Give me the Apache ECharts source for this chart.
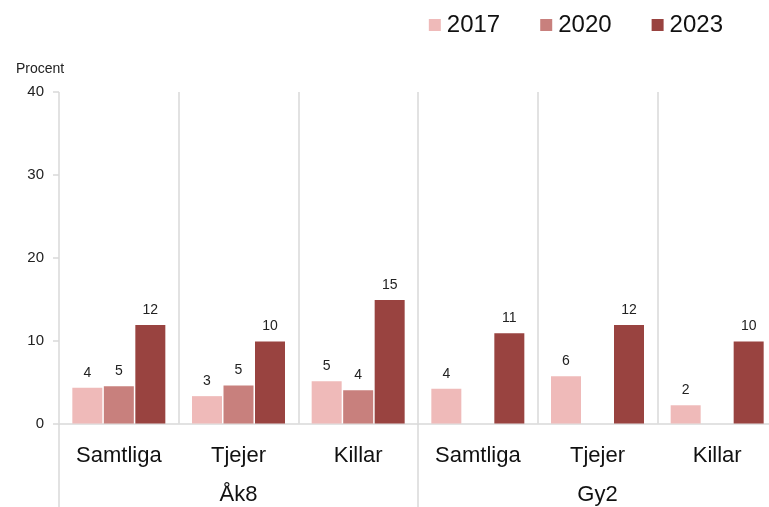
<!DOCTYPE html>
<html><head><meta charset="utf-8">
<script src="https://cdn.jsdelivr.net/npm/echarts@6/dist/echarts.min.js"></script>
<style>html,body{margin:0;padding:0;background:#fff;overflow:hidden}#c{width:769px;height:507px}</style>
</head><body><div id="c"></div>
<script>
const categories = ['Samtliga','Tjejer','Killar','Samtliga','Tjejer','Killar'];
const groups = ['Åk8','Gy2'];
const years = ['2017','2020','2023'];
const v2017 = [4.3, 3.3, 5.1, 4.2, 5.7, 2.2];
const v2020 = [4.5, 4.6, 4.0, null, null, null];
const v2023 = [11.9, 9.9, 14.9, 10.9, 11.9, 9.9];
const yTicks = {min: 0, max: 40, interval: 10};
const colors = ['#efbab9', '#c8807d', '#994340'];

const font = 'Liberation Sans, Arial, sans-serif';
function mk(name, data, color) {
  return {
    name, type: 'bar', data, xAxisIndex: 0,
    barWidth: 30, barGap: '5%',
    itemStyle: {color},
    label: {show: true, position: 'top', distance: 8, fontSize: 14, color: '#222', fontFamily: font,
      formatter: p => p.value == null ? '' : Math.round(p.value)}
  };
}
const chart = echarts.init(document.getElementById('c'));
chart.setOption({
  animation: false,
  textStyle: {fontFamily: font},
  title: {text: 'Procent', left: 11, top: 57, textStyle: {fontSize: 14, fontWeight: 'normal', color: '#222', fontFamily: font}},
  legend: {data: years, right: 41, top: 8, itemWidth: 12, itemHeight: 12, itemGap: 40,
    textStyle: {fontSize: 24, color: '#111', fontFamily: font, padding: [0, 0, 0, 1]}, icon: 'rect'},
  grid: {left: 59, right: -8, top: 92, bottom: 83.5, outerBoundsMode: 'none', containLabel: false},
  xAxis: [
    {type: 'category', data: categories, position: 'bottom',
      axisLine: {show: true, lineStyle: {color: '#d9d9d9', width: 1.5}},
      axisTick: {show: false},
      splitLine: {show: true, lineStyle: {color: '#d9d9d9', width: 1.5}},
      axisLabel: {fontSize: 22, color: '#111', margin: 21, fontFamily: font}},
    {type: 'category', data: groups, position: 'bottom',
      axisLine: {show: false},
      axisTick: {show: true, length: 90, lineStyle: {color: '#d9d9d9', width: 1.5}},
      axisLabel: {fontSize: 22, color: '#111', margin: 60, fontFamily: font}}
  ],
  yAxis: {type: 'value', min: yTicks.min, max: yTicks.max, interval: yTicks.interval,
    axisLine: {show: false},
    axisTick: {show: true, length: 6, lineStyle: {color: '#d9d9d9', width: 1.5}},
    splitLine: {show: false},
    axisLabel: {fontSize: 15, color: '#222', margin: 15, fontFamily: font}},
  series: [mk('2017', v2017, colors[0]), mk('2020', v2020, colors[1]), mk('2023', v2023, colors[2])]
});
</script></body></html>
